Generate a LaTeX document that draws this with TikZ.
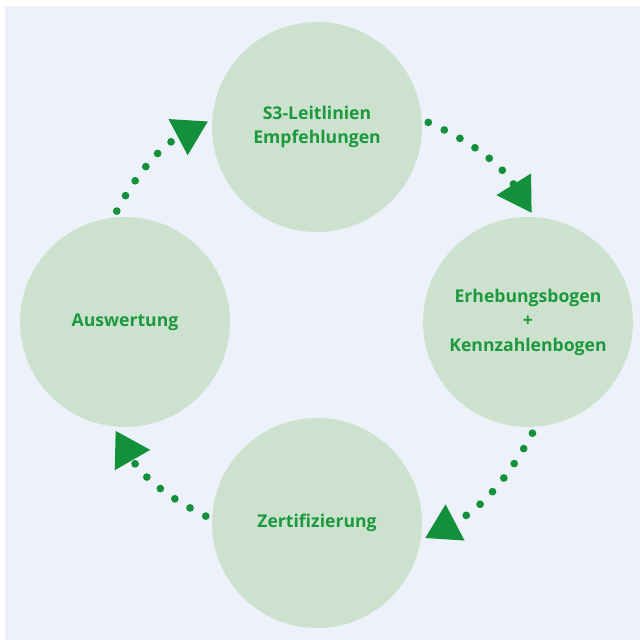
\documentclass[tikz,border=0pt]{standalone}
\usepackage{fontspec}
\setmainfont{Open Sans}
\usetikzlibrary{arrows.meta}

\definecolor{bgblue}{RGB}{237,242,250}
\definecolor{circfill}{RGB}{205,226,206}
\definecolor{txtgreen}{RGB}{28,152,62}
\definecolor{arrgreen}{RGB}{18,145,58}

\tikzset{every picture/.style={line width=0.75pt}}

\begin{document}
\begin{tikzpicture}[x=0.75pt,y=0.75pt,yscale=-1,xscale=1,
	stage/.style={circle,fill=circfill,minimum size=157.5pt,inner sep=0pt,outer sep=3pt,
		align=center,text=txtgreen,font=\bfseries\fontsize{13.2}{18.4}\selectfont},
	flow/.style={draw=arrgreen,line width=5.8pt,line cap=round,dash pattern=on 0pt off 13.3pt,
		shorten <=2pt,-{Triangle[length=25.5pt,width=29pt]},bend right=17}]
	\useasboundingbox (0,0) rectangle (640,640);
	%set diagram background
	\fill[bgblue] (5,6) rectangle (640,640);

	% Circles
	\node[stage] (leitlinien) at (317,127) {S3-Leitlinien\\Empfehlungen};
	\node[stage] (erhebung) at (528,322) {Erhebungsbogen\\+\\Kennzahlenbogen};
	\node[stage] (zert) at (317,523) {Zertifizierung};
	\node[stage] (auswertung) at (125,322) {Auswertung};

	% Dotted arrows
	\draw[flow] (auswertung.95) to (leitlinien.177);
	\draw[flow] (leitlinien.3) to (erhebung.88);
	\draw[flow] (erhebung.-87) to (zert.-8);
	\draw[flow] (zert.177) to (auswertung.265);

\end{tikzpicture}
\end{document}
